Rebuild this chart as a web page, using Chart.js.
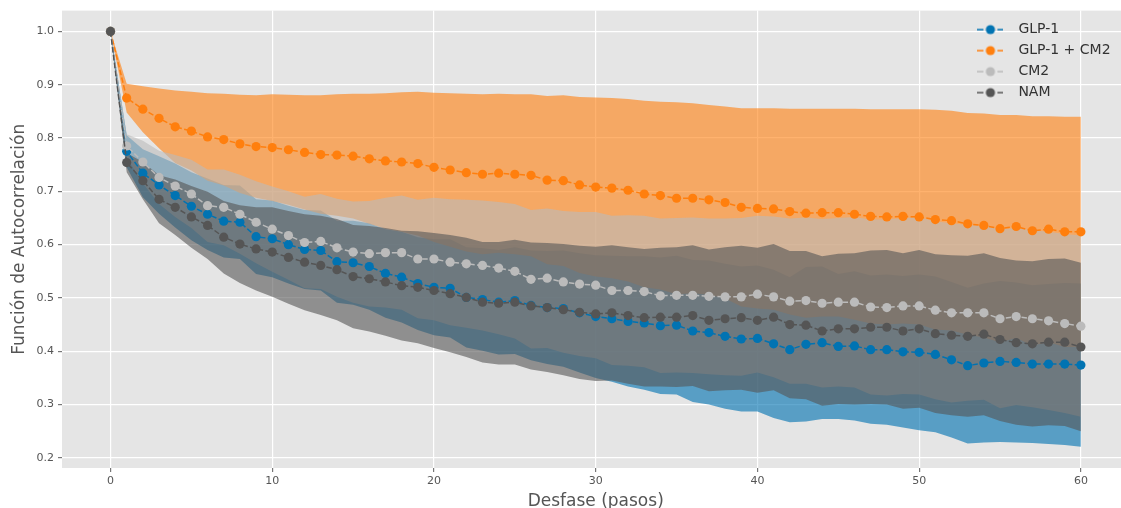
<!DOCTYPE html>
<html lang="es">
<head>
<meta charset="utf-8">
<title>Función de Autocorrelación</title>
<script src="https://cdn.jsdelivr.net/npm/chart.js@4.4.1/dist/chart.umd.min.js"></script>
<style>
  html, body { margin: 0; padding: 0; background: #ffffff; overflow: hidden; }
  #wrap { width: 1134px; height: 520px; }
</style>
</head>
<body>
<div id="wrap"><canvas id="acf" width="1134" height="520"></canvas></div>
<script>
// Lags (pasos)
const lags = [0,1,2,3,4,5,6,7,8,9,10,11,12,13,14,15,16,17,18,19,20,
  21,22,23,24,25,26,27,28,29,30,31,32,33,34,35,36,37,38,39,40,
  41,42,43,44,45,46,47,48,49,50,51,52,53,54,55,56,57,58,59,60];

const seriesNames = ['GLP-1', 'GLP-1 + CM2', 'CM2', 'NAM'];

// Mean autocorrelation per lag
const glp1Mean = [1.000,0.775,0.734,0.712,0.692,0.672,0.657,0.644,0.642,0.615,0.611,
  0.600,0.591,0.589,0.568,0.566,0.559,0.546,0.539,0.527,0.520,
  0.518,0.501,0.497,0.492,0.495,0.486,0.482,0.480,0.472,0.465,
  0.461,0.456,0.453,0.448,0.449,0.438,0.435,0.428,0.423,0.424,
  0.414,0.403,0.413,0.416,0.409,0.410,0.403,0.403,0.399,0.398,
  0.394,0.384,0.373,0.378,0.381,0.379,0.376,0.376,0.376,0.374];

const glp1Cm2Mean = [1.000,0.875,0.854,0.837,0.821,0.813,0.802,0.797,0.789,0.784,0.782,
  0.778,0.773,0.769,0.768,0.766,0.761,0.757,0.755,0.752,0.745,
  0.740,0.735,0.732,0.734,0.732,0.730,0.721,0.720,0.712,0.708,
  0.706,0.702,0.695,0.692,0.687,0.687,0.684,0.679,0.670,0.668,
  0.667,0.662,0.659,0.660,0.660,0.657,0.653,0.652,0.653,0.652,
  0.647,0.645,0.639,0.636,0.630,0.634,0.626,0.629,0.624,0.624];

const cm2Mean = [1.000,0.785,0.755,0.726,0.710,0.695,0.673,0.670,0.657,0.642,0.629,
  0.617,0.604,0.606,0.594,0.586,0.583,0.585,0.585,0.573,0.573,
  0.567,0.564,0.561,0.556,0.550,0.535,0.537,0.530,0.526,0.524,
  0.514,0.514,0.512,0.504,0.505,0.505,0.503,0.502,0.502,0.507,
  0.502,0.494,0.495,0.490,0.492,0.492,0.483,0.482,0.485,0.485,
  0.477,0.472,0.472,0.472,0.461,0.465,0.461,0.457,0.452,0.447];

const namMean = [1.000,0.754,0.720,0.685,0.670,0.652,0.636,0.614,0.601,0.592,0.586,
  0.576,0.567,0.561,0.553,0.540,0.536,0.530,0.523,0.520,0.514,
  0.508,0.501,0.492,0.490,0.492,0.485,0.482,0.478,0.473,0.470,
  0.472,0.467,0.463,0.464,0.464,0.467,0.458,0.461,0.463,0.458,
  0.464,0.450,0.449,0.438,0.442,0.442,0.445,0.445,0.438,0.442,
  0.433,0.430,0.428,0.432,0.422,0.416,0.414,0.417,0.417,0.408];

// Standard deviation per lag (shaded band = mean ± std)
const glp1Std = [0.000,0.030,0.045,0.054,0.060,0.064,0.067,0.068,0.069,0.070,0.072,
  0.073,0.074,0.075,0.077,0.079,0.081,0.083,0.085,0.087,0.090,
  0.092,0.094,0.096,0.098,0.100,0.103,0.106,0.109,0.112,0.115,
  0.118,0.122,0.125,0.128,0.130,0.133,0.135,0.136,0.136,0.137,
  0.139,0.136,0.145,0.143,0.136,0.140,0.139,0.141,0.142,0.146,
  0.146,0.146,0.146,0.149,0.151,0.150,0.148,0.150,0.152,0.153];

const glp1Cm2Std = [0.000,0.027,0.043,0.056,0.068,0.074,0.082,0.086,0.092,0.096,0.100,
  0.103,0.107,0.111,0.114,0.117,0.122,0.127,0.131,0.135,0.140,
  0.144,0.148,0.150,0.149,0.150,0.152,0.158,0.160,0.165,0.168,
  0.169,0.171,0.175,0.176,0.180,0.178,0.178,0.180,0.186,0.188,
  0.189,0.193,0.196,0.195,0.195,0.198,0.201,0.202,0.201,0.202,
  0.206,0.206,0.208,0.210,0.213,0.209,0.215,0.212,0.216,0.216];

const cm2Std = [0.000,0.022,0.040,0.050,0.058,0.064,0.068,0.071,0.074,0.077,0.080,
  0.083,0.086,0.089,0.092,0.095,0.099,0.103,0.107,0.111,0.115,
  0.118,0.120,0.122,0.124,0.126,0.130,0.131,0.133,0.135,0.137,
  0.140,0.141,0.142,0.145,0.145,0.146,0.146,0.147,0.148,0.147,
  0.151,0.155,0.156,0.158,0.158,0.160,0.164,0.165,0.165,0.166,
  0.167,0.168,0.165,0.163,0.168,0.166,0.166,0.167,0.168,0.170];

const namStd = [0.000,0.018,0.035,0.045,0.052,0.058,0.063,0.068,0.073,0.078,0.084,
  0.087,0.090,0.093,0.095,0.097,0.099,0.101,0.103,0.105,0.108,
  0.110,0.112,0.113,0.115,0.117,0.119,0.121,0.123,0.125,0.126,
  0.127,0.128,0.129,0.130,0.131,0.132,0.133,0.134,0.135,0.136,
  0.137,0.138,0.139,0.140,0.141,0.142,0.144,0.145,0.146,0.148,
  0.149,0.150,0.151,0.152,0.153,0.154,0.155,0.156,0.157,0.158];

// Axis ticks
const xTicks = [0, 10, 20, 30, 40, 50, 60];
const yTicks = [0.2, 0.3, 0.4, 0.5, 0.6, 0.7, 0.8, 0.9, 1.0];

// Styling
const lineColors = ['#0173b2', '#ff7f0e', '#bbbbbb', '#555555'];
const bandColors = ['rgba(1,115,178,0.62)', 'rgba(255,127,14,0.6)',
                    'rgba(187,187,187,0.6)', 'rgba(85,85,85,0.6)'];
const FONT = "'DejaVu Sans', 'Liberation Sans', sans-serif";

const means = [glp1Mean, glp1Cm2Mean, cm2Mean, namMean];
const stds = [glp1Std, glp1Cm2Std, cm2Std, namStd];

const toPoints = arr => lags.map((x, i) => ({ x, y: arr[i] }));

// Bands first (drawn beneath), later series on top of earlier ones
const datasets = [];
seriesNames.forEach((name, s) => {
  const upper = means[s].map((m, i) => m + stds[s][i]);
  const lower = means[s].map((m, i) => m - stds[s][i]);
  const bandOrder = 7 - s;
  datasets.push({
    data: toPoints(upper), fill: '+1', backgroundColor: bandColors[s],
    borderWidth: 0, borderColor: 'transparent', pointRadius: 0, order: bandOrder, isBand: true
  });
  datasets.push({
    data: toPoints(lower), fill: false, backgroundColor: 'transparent',
    borderWidth: 0, borderColor: 'transparent', pointRadius: 0, order: bandOrder, isBand: true
  });
});
const firstLine = datasets.length;
seriesNames.forEach((name, s) => {
  datasets.push({
    label: name, data: toPoints(means[s]), fill: false,
    borderColor: lineColors[s], backgroundColor: lineColors[s],
    borderWidth: 1.5, borderDash: [5.5, 2.4],
    pointRadius: 4.6, pointBorderWidth: 0, pointBackgroundColor: lineColors[s],
    pointStyle: 'circle', order: 3 - s
  });
});

// Legend glyph: dashed stub, marker, dashed stub
function legendGlyph(color) {
  const c = document.createElement('canvas');
  c.width = 26; c.height = 12;
  const g = c.getContext('2d');
  g.strokeStyle = color; g.lineWidth = 1.5;
  g.beginPath(); g.moveTo(0, 6); g.lineTo(6, 6); g.moveTo(20, 6); g.lineTo(26, 6); g.stroke();
  g.fillStyle = color;
  g.beginPath(); g.arc(13, 6, 4.6, 0, Math.PI * 2); g.fill();
  return c;
}
const glyphs = lineColors.map(legendGlyph);

const plotBackground = {
  id: 'plotBackground',
  beforeDraw(chart) {
    const { ctx, chartArea: a } = chart;
    ctx.save();
    ctx.fillStyle = '#e5e5e5';
    ctx.fillRect(a.left, a.top, a.right - a.left, a.bottom - a.top);
    ctx.restore();
  }
};

// Put the legend in the upper-right corner of the plot
const legendCorner = {
  id: 'legendCorner',
  afterLayout(chart) {
    const lg = chart.legend;
    if (!lg) return;
    lg.left = chart.chartArea.right - 167;
    lg.top = chart.chartArea.top + 5;
    lg.right = lg.left + 170;
    lg.bottom = lg.top + 140;
  }
};

new Chart(document.getElementById('acf'), {
  type: 'line',
  data: { datasets },
  plugins: [plotBackground, legendCorner],
  options: {
    responsive: false,
    animation: false,
    events: [],
    layout: { padding: { left: 0, top: 9, right: 1, bottom: 0 } },
    scales: {
      x: {
        type: 'linear', min: -3, max: 63,
        afterFit: s => { s.height = 52; },
        afterBuildTicks: s => { s.ticks = xTicks.map(v => ({ value: v })); },
        ticks: { color: '#555', font: { family: FONT, size: 11 }, padding: 3,
                 callback: v => String(v), maxRotation: 0 },
        grid: { color: '#ffffff', lineWidth: 1.2, tickColor: '#777', tickLength: 4, drawTicks: true },
        border: { display: false },
        title: { display: true, text: 'Desfase (pasos)', color: '#555',
                 font: { family: FONT, size: 17 }, padding: { top: 0, bottom: 8 } }
      },
      y: {
        type: 'linear', min: 0.181, max: 1.039,
        afterFit: s => { s.width = 62; },
        afterBuildTicks: s => { s.ticks = yTicks.map(v => ({ value: v })); },
        ticks: { color: '#555', font: { family: FONT, size: 11 }, padding: 4,
                 callback: v => Number(v).toFixed(1) },
        grid: { color: '#ffffff', lineWidth: 1.2, tickColor: '#777', tickLength: 4, drawTicks: true },
        border: { display: false },
        title: { display: true, text: 'Función de Autocorrelación', color: '#555',
                 font: { family: FONT, size: 17 }, padding: { top: 9, bottom: 0 } }
      }
    },
    plugins: {
      tooltip: { enabled: false },
      legend: {
        position: 'chartArea',
        align: 'start',
        labels: {
          color: '#333',
          font: { family: FONT, size: 14 },
          usePointStyle: true,
          pointStyleWidth: 42,
          padding: 7,
          filter: item => !datasets[item.datasetIndex].isBand,
          generateLabels: chart => {
            const items = Chart.defaults.plugins.legend.labels.generateLabels(chart);
            items.sort((a, b) => a.datasetIndex - b.datasetIndex);
            items.forEach(it => {
              const s = it.datasetIndex - firstLine;
              if (s >= 0) it.pointStyle = glyphs[s];
            });
            return items;
          }
        }
      }
    }
  }
});
</script>
</body>
</html>
